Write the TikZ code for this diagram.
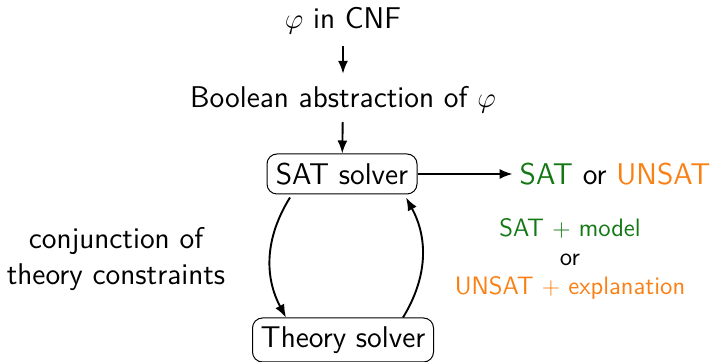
\documentclass[tikz,border=0pt]{standalone}
\usetikzlibrary{arrows.meta}
\definecolor{satgreen}{RGB}{20,120,20}
\definecolor{unsatorange}{RGB}{250,128,20}
\newcommand{\bigtext}{\fontsize{15}{18.2}\selectfont}
\newcommand{\smalltext}{\fontsize{12.6}{14.6}\selectfont}
\begin{document}
\begin{tikzpicture}[x=0.5pt,y=-0.5pt,
  font=\sffamily\bigtext,
  lbl/.style={inner sep=3.33pt},
  solver/.style={draw,line width=0.5pt,rounded corners=5pt,inner sep=0pt},
  flow/.style={-{Latex[length=6.5pt,width=5pt]},line width=0.95pt}]
\useasboundingbox (0,0) rectangle (711,362);

% pipeline from the input formula down to the SAT solver
\node[lbl,anchor=base] (cnf) at (343,29) {$\varphi$ in CNF};
\node[lbl,anchor=base] (abs) at (343,108) {Boolean abstraction of $\varphi$};
\node[solver,minimum width=75pt,minimum height=20pt] (sat) at (342,174) {SAT solver};
\node[solver,minimum width=90.5pt,minimum height=22pt] (th) at (343,340) {Theory solver};

% final answer
\node[lbl] (res) at (615,174) {\textcolor{satgreen}{SAT} or \textcolor{unsatorange}{UNSAT}};

% side labels
\node[align=center] (conj) at (116,259) {conjunction of\\theory constraints};
\node[align=center,font=\sffamily\smalltext] (ans) at (570,259)
  {\textcolor{satgreen}{SAT $+$ model}\\or\\\textcolor{unsatorange}{UNSAT $+$ explanation}};

% connectors
\draw[flow,shorten <=2.2pt,shorten >=3pt] (cnf) -- (abs);
\draw[flow,shorten <=0.7pt] (abs) -- (sat);
\draw[flow] (sat) -- (res);
\draw[flow] ([xshift=-26pt,yshift=-1.5pt]sat.south) to[bend right=30] ([xshift=-28.5pt]th.north);
\draw[flow] ([xshift=30pt]th.north) to[bend right=30] ([xshift=32pt,yshift=-1.5pt]sat.south);
\end{tikzpicture}
\end{document}
